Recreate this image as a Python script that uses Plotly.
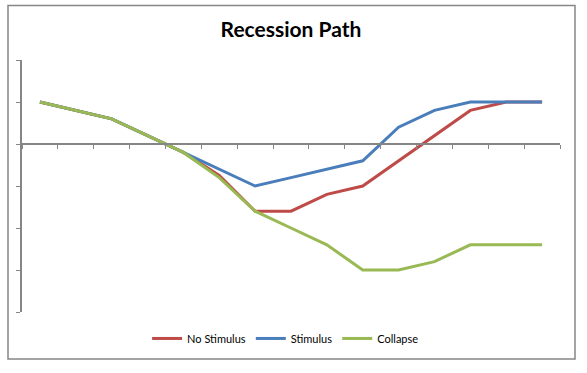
import plotly.graph_objects as go

periods = [str(i) for i in range(1, 16)]
no_stimulus = [1.0, 0.8, 0.6, 0.2, -0.2, -0.75, -1.6, -1.6, -1.2, -1.0, -0.4, 0.2, 0.8, 1.0, 1.0]
stimulus = [1.0, 0.8, 0.6, 0.2, -0.2, -0.6, -1.0, -0.8, -0.6, -0.4, 0.4, 0.8, 1.0, 1.0, 1.0]
collapse = [1.0, 0.8, 0.6, 0.2, -0.2, -0.8, -1.6, -2.0, -2.4, -3.0, -3.0, -2.8, -2.4, -2.4, -2.4]

font = "Lato, 'Liberation Sans', sans-serif"
axis_col = "#868686"

fig = go.Figure()
fig.add_trace(go.Scatter(x=periods, y=no_stimulus, mode="lines", name="No Stimulus",
                         line=dict(color="#BE4B48", width=3)))
fig.add_trace(go.Scatter(x=periods, y=stimulus, mode="lines", name="Stimulus",
                         line=dict(color="#4A7EBB", width=3)))
fig.add_trace(go.Scatter(x=periods, y=collapse, mode="lines", name="Collapse",
                         line=dict(color="#98B954", width=3)))

fig.update_layout(
    width=587, height=373,
    margin=dict(l=22, r=27, t=60, b=61, autoexpand=False),
    paper_bgcolor="white", plot_bgcolor="white",
    title=dict(text="<b>Recession Path</b>", x=291 / 587, xanchor="center",
               y=1 - 30 / 373, yanchor="middle",
               font=dict(family=font, size=21, color="black")),
    font=dict(family=font, size=11, color="black"),
    showlegend=True,
    legend=dict(orientation="h", x=0.49, xanchor="center", y=-0.105, yanchor="middle",
                font=dict(size=11), itemwidth=30, traceorder="normal"),
    xaxis=dict(type="category", range=[-0.5, 14.5], showgrid=False, zeroline=False,
               showline=True, linecolor=axis_col, linewidth=1.5,
               ticks="outside", tickson="boundaries", ticklen=4, tickcolor=axis_col,
               showticklabels=False, anchor="free", position=4/6),
    yaxis=dict(range=[-4, 2], dtick=1, showgrid=False, zeroline=False,
               showline=True, linecolor=axis_col, linewidth=1.5,
               ticks="outside", ticklen=4, tickcolor=axis_col, showticklabels=False),
    shapes=[dict(type="rect", xref="paper", yref="paper",
                 x0=(8 - 22) / 538, x1=(575 - 22) / 538,
                 y0=(312 - 359) / 252, y1=(312 - 5.5) / 252,
                 line=dict(color=axis_col, width=1.5), fillcolor="rgba(0,0,0,0)", layer="below")],
)

fig.write_html("out.html", config={"displayModeBar": False},
               post_script="document.body.style.margin='0';")
